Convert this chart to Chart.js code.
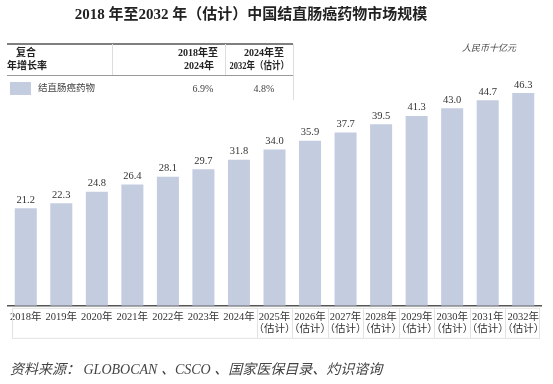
<!DOCTYPE html>
<html>
<head>
<meta charset="utf-8">
<script src="https://cdn.jsdelivr.net/npm/chart.js@4.4.1/dist/chart.umd.min.js"></script>
<style>
  html, body { margin: 0; padding: 0; background: #fff; }
  #wrap { position: relative; width: 553px; height: 384px; }
</style>
</head>
<body>
<div id="wrap"><canvas id="chart"></canvas></div>
<script>
// ---------- DATA ----------
const years = ["2018", "2019", "2020", "2021", "2022", "2023", "2024", "2025", "2026", "2027", "2028", "2029", "2030", "2031", "2032"];
const firstEstimate = 7; // 2025 onwards are estimates
const marketSize = [21.2, 22.3, 24.8, 26.4, 28.1, 29.7, 31.8, 34.0, 35.9, 37.7, 39.5, 41.3, 43.0, 44.7, 46.3];
const seriesName = "结直肠癌药物";
const cagrHeaders = [["2018年至", "2024年"], ["2024年至", "2032年（估计）"]];
const cagrValues = ["6.9%", "4.8%"];

const titleText = "2018 年至2032 年（估计）中国结直肠癌药物市场规模";
const unitText = "人民币十亿元";
const sourceText = "资料来源： GLOBOCAN 、CSCO 、国家医保目录、灼识谘询";

const SERIF = "'Liberation Serif', 'DejaVu Serif', 'Noto Sans CJK SC', serif";
const barColor = "#c4cce0";

const labels = years.map((y, i) => i >= firstEstimate ? [y + "年", "（估计）"] : [y + "年"]);

// ---------- DECORATION PLUGIN ----------
// title, CAGR table, unit note, value labels, tick box and source line
const decor = {
  id: "decor",
  afterDraw(chart) {
    const ctx = chart.ctx;
    const area = chart.chartArea;
    ctx.save();

    // title
    ctx.fillStyle = "#222";
    ctx.textAlign = "center";
    ctx.textBaseline = "middle";
    ctx.font = "bold 15px " + SERIF;
    ctx.fillText(titleText, 251, 15);

    // CAGR table
    ctx.strokeStyle = "#555";
    ctx.lineWidth = 1.5;
    ctx.beginPath(); ctx.moveTo(7, 44); ctx.lineTo(293, 44); ctx.stroke();
    ctx.strokeStyle = "#999";
    ctx.lineWidth = 1;
    ctx.beginPath(); ctx.moveTo(7, 75.5); ctx.lineTo(293, 75.5); ctx.stroke();
    ctx.strokeStyle = "#ddd";
    ctx.beginPath(); ctx.moveTo(112.5, 44); ctx.lineTo(112.5, 75); ctx.stroke();
    ctx.beginPath(); ctx.moveTo(225.5, 44); ctx.lineTo(225.5, 75); ctx.stroke();
    ctx.beginPath(); ctx.moveTo(293.5, 44); ctx.lineTo(293.5, 100); ctx.stroke();

    ctx.fillStyle = "#222";
    ctx.textAlign = "left";
    ctx.font = "bold 10px " + SERIF;
    ctx.fillText("复合", 16, 53);
    ctx.fillText("年增长率", 7, 66);

    ctx.textAlign = "right";
    ctx.fillText(cagrHeaders[0][0], 218, 53);
    ctx.fillText(cagrHeaders[0][1], 214, 66);
    ctx.fillText(cagrHeaders[1][0], 284, 53);
    // this header is squeezed in the original, compress it a bit
    ctx.save();
    ctx.translate(289, 66);
    ctx.scale(0.85, 1);
    ctx.font = "bold 10px " + SERIF;
    ctx.fillText(cagrHeaders[1][1], 0, 0);
    ctx.restore();

    // legend row
    ctx.fillStyle = barColor;
    ctx.fillRect(10, 82, 21, 13);
    ctx.fillStyle = "#444";
    ctx.textAlign = "left";
    ctx.font = "9.5px " + SERIF;
    ctx.fillText(seriesName, 38, 88);
    ctx.textAlign = "center";
    ctx.font = "10px " + SERIF;
    ctx.fillText(cagrValues[0], 203, 89);
    ctx.fillText(cagrValues[1], 264, 89);

    // unit
    ctx.font = "italic 9px " + SERIF;
    ctx.textAlign = "right";
    ctx.fillStyle = "#444";
    ctx.fillText(unitText, 516, 49);

    // value labels on bars
    const meta = chart.getDatasetMeta(0);
    ctx.font = "10.5px " + SERIF;
    ctx.fillStyle = "#333";
    ctx.textAlign = "center";
    ctx.textBaseline = "bottom";
    meta.data.forEach((bar, i) => {
      ctx.fillText(marketSize[i].toFixed(1), bar.x, bar.y - 3);
    });

    // faint box around tick labels
    const xs = chart.scales.x;
    const step = (area.right - area.left) / years.length;
    ctx.strokeStyle = "#e2e2e2";
    ctx.lineWidth = 1;
    ctx.strokeRect(area.left + 4.5, area.bottom + 2.5, area.right - area.left - 6, 30);
    for (let i = firstEstimate; i < years.length; i++) {
      const x = Math.round(xs.getPixelForValue(i) - step / 2) + 0.5;
      ctx.beginPath(); ctx.moveTo(x, area.bottom + 3); ctx.lineTo(x, area.bottom + 32); ctx.stroke();
    }

    // source
    ctx.font = "italic 14px " + SERIF;
    ctx.fillStyle = "#444";
    ctx.textAlign = "left";
    ctx.textBaseline = "middle";
    ctx.fillText(sourceText, 10, 370);

    ctx.restore();
  }
};

// ---------- CHART ----------
new Chart(document.getElementById("chart"), {
  type: "bar",
  data: {
    labels: labels,
    datasets: [{
      label: seriesName,
      data: marketSize,
      backgroundColor: barColor,
      categoryPercentage: 1,
      barPercentage: 0.62
    }]
  },
  options: {
    responsive: true,
    maintainAspectRatio: false,
    animation: false,
    layout: { padding: { left: 8, right: 12, top: 76, bottom: 43 } },
    plugins: { legend: { display: false }, tooltip: { enabled: false } },
    scales: {
      x: {
        grid: { display: false, drawTicks: false },
        border: { display: true, color: "#555", width: 1.5 },
        ticks: {
          color: "#333",
          font: { family: SERIF, size: 10.5 },
          padding: 5,
          maxRotation: 0,
          autoSkip: false
        }
      },
      y: { display: false, min: 0, max: 50 }
    }
  },
  plugins: [decor]
});
</script>
</body>
</html>
